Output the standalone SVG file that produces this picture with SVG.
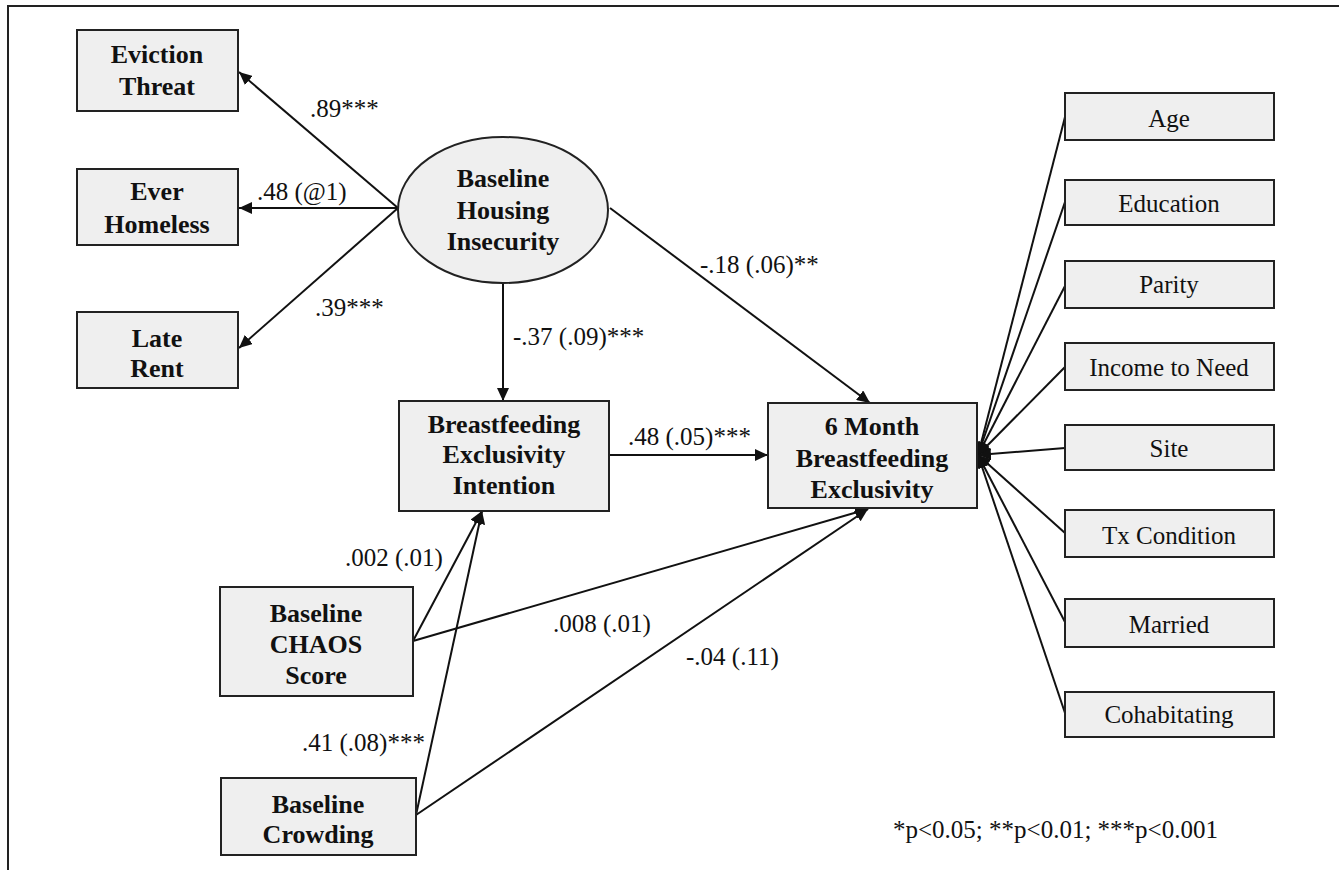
<svg xmlns="http://www.w3.org/2000/svg" width="1339" height="870" viewBox="0 0 1339 870">
<style>
.box{fill:#efefef;stroke:#222;stroke-width:2}
.b{font-family:"Liberation Serif","Times New Roman",serif;font-weight:bold;font-size:26px;fill:#111;text-anchor:middle}
.r{font-family:"Liberation Serif","Times New Roman",serif;font-size:25px;fill:#111;text-anchor:middle}
.lab{font-family:"Liberation Serif","Times New Roman",serif;font-size:25px;fill:#111}
.c{stroke:#111;stroke-width:2;fill:none;marker-end:url(#ah)}
</style>
<defs>
<marker id="ah" markerUnits="userSpaceOnUse" markerWidth="14" markerHeight="12" refX="13" refY="6" orient="auto">
<path d="M0,0 L13,6 L0,12 z" fill="#111"/>
</marker>
</defs>
<rect x="0" y="0" width="1339" height="870" fill="#fff"/>
<path d="M8,870 L8,6 L1339,6" fill="none" stroke="#222" stroke-width="2"/>

<g id="connectors">
<line class="c" x1="398" y1="208" x2="239" y2="72"/>
<line class="c" x1="398" y1="208" x2="239" y2="208"/>
<line class="c" x1="398" y1="208" x2="239" y2="348"/>
<line class="c" x1="503" y1="283" x2="503" y2="401"/>
<line class="c" x1="610" y1="208" x2="870" y2="403"/>
<line class="c" x1="609" y1="455" x2="768" y2="455"/>
<line class="c" x1="413" y1="641" x2="482" y2="511"/>
<line class="c" x1="416" y1="815" x2="482" y2="511"/>
<line class="c" x1="413" y1="641" x2="868" y2="509"/>
<line class="c" x1="416" y1="815" x2="868" y2="509"/>
<line class="c" x1="1065" y1="117" x2="978" y2="455"/>
<line class="c" x1="1065" y1="202" x2="978" y2="455"/>
<line class="c" x1="1065" y1="286" x2="978" y2="455"/>
<line class="c" x1="1065" y1="367" x2="978" y2="455"/>
<line class="c" x1="1065" y1="448" x2="978" y2="455"/>
<line class="c" x1="1065" y1="533" x2="978" y2="455"/>
<line class="c" x1="1065" y1="622" x2="978" y2="455"/>
<line class="c" x1="1065" y1="713" x2="978" y2="455"/>
<text class="lab" x="310" y="117">.89***</text>
<text class="lab" x="257" y="200">.48 (@1)</text>
<text class="lab" x="315" y="316">.39***</text>
<text class="lab" x="513" y="345">-.37 (.09)***</text>
<text class="lab" x="700" y="273">-.18 (.06)**</text>
<text class="lab" x="628" y="445">.48 (.05)***</text>
<text class="lab" x="345" y="566">.002 (.01)</text>
<text class="lab" x="553" y="632">.008 (.01)</text>
<text class="lab" x="686" y="665">-.04 (.11)</text>
<text class="lab" x="302" y="751">.41 (.08)***</text>
</g>

<g id="eviction"><rect class="box" x="77" y="30" width="161" height="81"/><text class="b" x="157" y="63">Eviction</text><text class="b" x="157" y="95">Threat</text></g>
<g id="homeless"><rect class="box" x="77" y="169" width="161" height="76"/><text class="b" x="157" y="200">Ever</text><text class="b" x="157" y="233">Homeless</text></g>
<g id="laterent"><rect class="box" x="77" y="312" width="161" height="76"/><text class="b" x="157" y="347">Late</text><text class="b" x="157" y="377">Rent</text></g>
<g id="housing"><ellipse class="box" cx="503" cy="210" rx="105" ry="73"/><text class="b" x="503" y="187">Baseline</text><text class="b" x="503" y="219">Housing</text><text class="b" x="503" y="250">Insecurity</text></g>
<g id="intention"><rect class="box" x="399" y="401" width="210" height="110"/><text class="b" x="504" y="433">Breastfeeding</text><text class="b" x="504" y="463">Exclusivity</text><text class="b" x="504" y="494">Intention</text></g>
<g id="sixmonth"><rect class="box" x="768" y="403" width="209" height="105"/><text class="b" x="872" y="435">6 Month</text><text class="b" x="872" y="467">Breastfeeding</text><text class="b" x="872" y="498">Exclusivity</text></g>
<g id="chaos"><rect class="box" x="220" y="587" width="193" height="109"/><text class="b" x="316" y="622">Baseline</text><text class="b" x="316" y="653">CHAOS</text><text class="b" x="316" y="684">Score</text></g>
<g id="crowding"><rect class="box" x="221" y="778" width="195" height="77"/><text class="b" x="318" y="813">Baseline</text><text class="b" x="318" y="843">Crowding</text></g>

<g id="age"><rect class="box" x="1065" y="93" width="209" height="47"/><text class="r" x="1169" y="127">Age</text></g>
<g id="education"><rect class="box" x="1065" y="180" width="209" height="45"/><text class="r" x="1169" y="212">Education</text></g>
<g id="parity"><rect class="box" x="1065" y="261" width="209" height="47"/><text class="r" x="1169" y="293">Parity</text></g>
<g id="income"><rect class="box" x="1065" y="343" width="209" height="47"/><text class="r" x="1169" y="376">Income to Need</text></g>
<g id="site"><rect class="box" x="1065" y="425" width="209" height="45"/><text class="r" x="1169" y="457">Site</text></g>
<g id="tx"><rect class="box" x="1065" y="510" width="209" height="47"/><text class="r" x="1169" y="544">Tx Condition</text></g>
<g id="married"><rect class="box" x="1065" y="599" width="209" height="48"/><text class="r" x="1169" y="633">Married</text></g>
<g id="cohab"><rect class="box" x="1065" y="692" width="209" height="45"/><text class="r" x="1169" y="723">Cohabitating</text></g>

<text class="lab" x="893" y="838">*p&lt;0.05; **p&lt;0.01; ***p&lt;0.001</text>
</svg>
